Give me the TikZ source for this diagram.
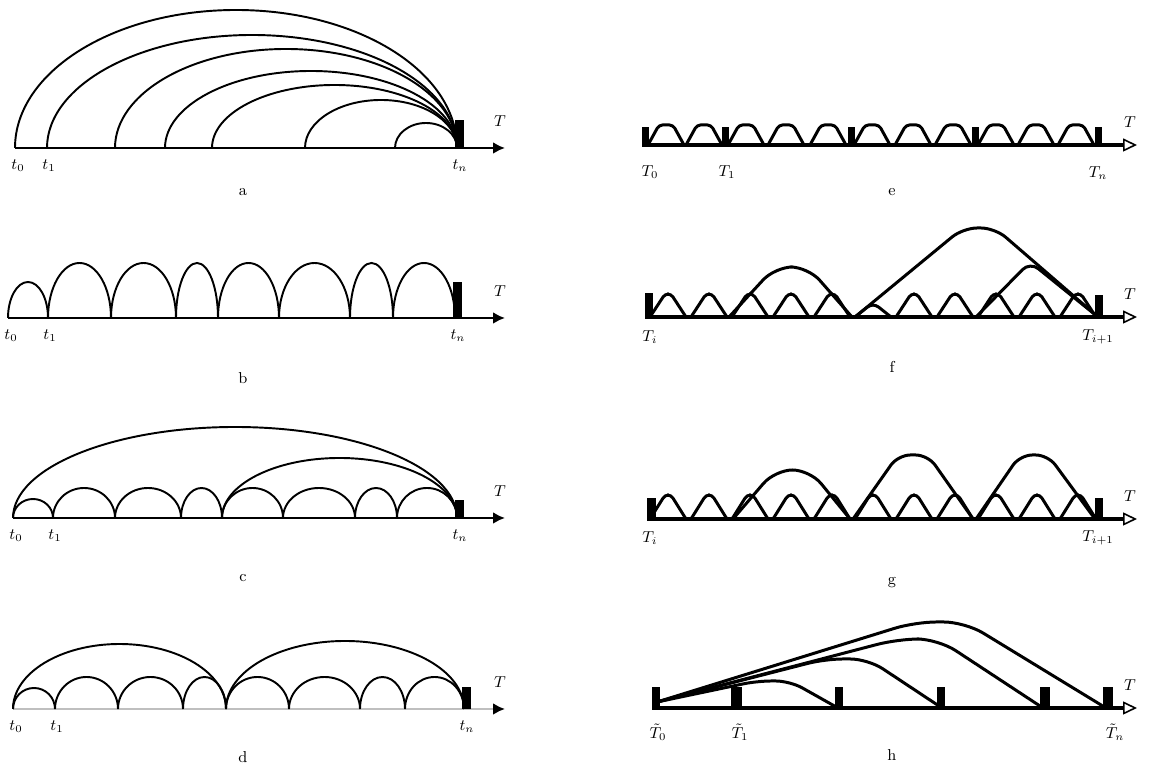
\documentclass[tikz,border=0pt]{standalone}
\usepackage{amsmath}
\usetikzlibrary{arrows.meta}
\tikzset{arch/.style={line width=1.1pt},
  archr/.style={line width=1.7pt,line join=round},
  axisl/.style={-{Latex[length=2.4mm,width=2.4mm,color=black]},line width=1.6pt},
  axisr/.style={-{Triangle[open,length=2.8mm,width=2.6mm,line width=0.9pt,fill=white]},line width=2.6pt},
  blk/.style={fill=black},
  lab/.style={font=\small,inner sep=1pt}}
\begin{document}
\begin{tikzpicture}[x=0.02cm,y=0.02cm]
\useasboundingbox (0,0) rectangle (1150,766);
\foreach \Y/\k/\xo/\xi/\xn/\bh/\cy/\ac/\c in {618/0/15/47/457/28/-44/black/a,448/1/8/48/455/36/-60/black/b,248/2/13/53/457/18/-60/black/c,57/3/13/55/464/22/-48/gray!50/d}{
 \begin{scope}[shift={(0,\Y)}]
 \draw[axisl,\ac] (\xo,0) -- (505,0);
 \ifnum\k=0 \foreach \p/\h in {15/138,47/113,115/99,165/77,212/63,305/48,395/25}
   \draw[arch] (\p,0) arc[start angle=180,end angle=0,x radius={(457-\p)/2},y radius=\h]; \fi
 \ifnum\k=1 \foreach \p/\q/\h in {8/48/36,48/111/55,111/176/55,176/218/55,218/279/55,279/350/55,350/393/55,393/455/55}
   \draw[arch] (\p,0) arc[start angle=180,end angle=0,x radius={(\q-\p)/2},y radius=\h]; \fi
 \ifnum\k=2 \foreach \p/\q/\h in {13/53/19,53/115/30,115/181/30,181/222/30,222/283/30,283/355/30,355/397/30,397/457/30,13/457/91,222/457/60}
   \draw[arch] (\p,0) arc[start angle=180,end angle=0,x radius={(\q-\p)/2},y radius=\h]; \fi
 \ifnum\k=3 \foreach \p/\q/\h in {13/55/21,55/118/32,118/183/32,183/226/32,226/289/32,289/360/32,360/405/32,405/464/32,13/226/65,226/464/68}
   \draw[arch] (\p,0) arc[start angle=180,end angle=0,x radius={(\q-\p)/2},y radius=\h]; \fi
 \fill[blk] (\xn-2,0) rectangle ++(9,\bh);
 \node[lab] (t0\c) at (\xo+3,-18) {$t_0$};
 \node[lab] (t1\c) at (\xi+2,-18) {$t_1$};
 \node[lab] (tn\c) at (\xn+3,-18) {$t_n$};
 \node[lab] (T\c) at (500,27) {$T$};
 \node[lab] (cap\c) at (243,\cy) {\c};
 \end{scope}
}
\foreach \Y/\k/\xo/\cy/\c in {621/0/642/-47/e,449/1/645/-50/f,247/2/647/-64/g,58/3/652/-47/h}{
 \begin{scope}[shift={(0,\Y)}]
 \draw[axisr] (\xo,0) -- (1137,0);
 \ifnum\k=0
  \foreach \p in {648,686,728,768,810,854,895,935,978,1018,1058}
   \draw[archr,rounded corners=2pt] (\p,0) -- ++(11,20) -- ++(14,0) -- ++(11,-20);
  \foreach \b in {642,722,848,972,1095} \fill[blk] (\b,0) rectangle ++(7,18);
  \node[lab] (T0e) at (650,-27) {$T_0$};
  \node[lab] (T1e) at (727,-27) {$T_1$};
  \node[lab] (Tne) at (1098,-28) {$T_n$};
 \fi
 \ifnum\k=1
  \foreach \p/\h in {668/23,709/23,750/23,791/23,832/23,873/12,914/23,955/23,996/23,1037/23,1078/23}
   \draw[archr,rounded corners=2pt] (\p-18,0) -- (\p-3,\h) -- (\p+3,\h) -- (\p+18,0);
  \draw[archr,rounded corners=10pt] (729,0) -- (775,50) -- (808,50) -- (852,0);
  \draw[archr,rounded corners=8pt] (855,0) -- (963,89) -- (995,89) -- (1098,0);
  \draw[archr,rounded corners=6pt] (976,0) -- (1030,55) -- (1098,0);
  \fill[blk] (645,0) rectangle ++(8,24);
  \fill[blk] (1095,0) rectangle ++(8,22);
 \fi
 \ifnum\k=2
  \foreach \p in {668,709,...,1078}
   \draw[archr,rounded corners=2pt] (\p-18,0) -- (\p-3,24) -- (\p+3,24) -- (\p+18,0);
  \draw[archr,rounded corners=10pt] (733,0) -- (775,49) -- (810,49) -- (850,0);
  \draw[archr,rounded corners=7pt] (853,0) -- (898,64) -- (928,64) -- (973,0);
  \draw[archr,rounded corners=7pt] (976,0) -- (1020,64) -- (1048,64) -- (1095,0);
  \fill[blk] (647,0) rectangle ++(9,21);
  \fill[blk] (1095,0) rectangle ++(8,21);
 \fi
 \ifnum\k=3
  \foreach \e/\xa/\xb/\h/\r in {838/757/790/27/8,942/825/868/49/10,1043/898/938/69/12,1106/915/965/86/12}
   \draw[archr,rounded corners=\r pt] (657,6) -- (\xa,\h) -- (\xb,\h) -- (\e,0);
  \foreach \b/\w in {652/8,731/11,835/8,937/8,1040/10,1103/10} \fill[blk] (\b,0) rectangle ++(\w,21);
  \node[lab] (T0h) at (658,-24) {$\tilde{T}_0$};
  \node[lab] (T1h) at (740,-24) {$\tilde{T}_1$};
  \node[lab] (Tnh) at (1115,-24) {$\tilde{T}_n$};
 \fi
 \ifnum\k=1 \node[lab] (Tif) at (650,-20) {$T_i$}; \node[lab] (Tjf) at (1098,-20) {$T_{i+1}$}; \fi
 \ifnum\k=2 \node[lab] (Tig) at (650,-19) {$T_i$}; \node[lab] (Tjg) at (1098,-19) {$T_{i+1}$}; \fi
 \node[lab] (T\c) at (1130,23) {$T$};
 \node[lab] (cap\c) at (892,\cy) {\c};
 \end{scope}
}
\end{tikzpicture}
\end{document}
